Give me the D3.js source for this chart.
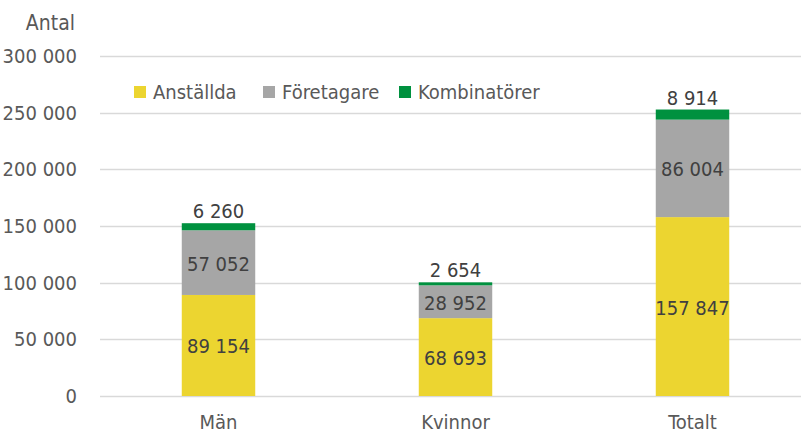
<!DOCTYPE html>
<html>
<head>
<meta charset="utf-8">
<script src="https://cdn.jsdelivr.net/npm/d3@7"></script>
<style>
  body { margin: 0; background: #fff; }
  svg text { font-family: "DejaVu Sans Condensed", "DejaVu Sans", sans-serif; font-stretch: condensed; }
</style>
</head>
<body>
<svg class="chart"></svg>
<script>
let categories = ['Män', 'Kvinnor', 'Totalt'];
let seriesNames = ['Anställda', 'Företagare', 'Kombinatörer'];
let anstallda = [89154, 68693, 157847];
let foretagare = [57052, 28952, 86004];
let kombinatorer = [6260, 2654, 8914];
let yTicks = [0, 50000, 100000, 150000, 200000, 250000, 300000];
let colors = ['#ecd530', '#a6a6a6', '#00913f'];

let width = 801, height = 436;
let margin = { top: 56, right: -10, bottom: 40, left: 100 };
let fontSize = '20px';

let chart = d3.select('.chart')
    .attr('width', width)
    .attr('height', height);

let x = d3.scaleBand()
    .domain(categories)
    .range([margin.left, width - margin.right])
    .paddingInner(0.69)
    .paddingOuter(0.345);

let y = d3.scaleLinear()
    .domain([0, 300000])
    .range([height - margin.bottom, margin.top]);

let fmt = v => d3.format(',')(v).replace(/,/g, ' ');

// grid
chart.append('g')
  .selectAll('line')
  .data(yTicks)
  .enter().append('line')
    .attr('x1', margin.left)
    .attr('x2', width)
    .attr('y1', d => Math.round(y(d)) + 0.5)
    .attr('y2', d => Math.round(y(d)) + 0.5)
    .attr('stroke', '#d9d9d9')
    .attr('stroke-width', 1.3);

// y axis labels
let yAxis = d3.axisLeft(y).tickValues(yTicks).tickSize(0).tickPadding(23).tickFormat(fmt);
let yg = chart.append('g')
    .attr('transform', 'translate(' + margin.left + ',0)')
    .call(yAxis);
yg.select('.domain').remove();
yg.selectAll('text')
    .attr('fill', '#595959')
    .style('font-size', fontSize);

chart.append('text')
    .attr('x', 75)
    .attr('y', 30)
    .attr('text-anchor', 'end')
    .attr('fill', '#595959')
    .style('font-size', '21px')
    .text('Antal');

// stacked data
let rows = categories.map((c, i) => ({
  cat: c, 'Anställda': anstallda[i], 'Företagare': foretagare[i], 'Kombinatörer': kombinatorer[i]
}));
let stack = d3.stack().keys(seriesNames)(rows);

let layer = chart.selectAll('.layer')
    .data(stack)
  .enter().append('g')
    .attr('class', 'layer')
    .attr('fill', (d, i) => colors[i]);

layer.selectAll('rect')
    .data(d => d)
  .enter().append('rect')
    .attr('x', d => x(d.data.cat))
    .attr('width', x.bandwidth())
    .attr('y', d => y(d[1]))
    .attr('height', d => y(d[0]) - y(d[1]));

// value labels
stack.forEach((s, si) => {
  chart.append('g').selectAll('text')
      .data(s)
    .enter().append('text')
      .attr('x', d => x(d.data.cat) + x.bandwidth() / 2)
      .attr('y', d => si === 2 ? y(d[1]) - 5 : (y(d[0]) + y(d[1])) / 2 + 8)
      .attr('text-anchor', 'middle')
      .attr('fill', '#404040')
      .style('font-size', fontSize)
      .text(d => fmt(d[1] - d[0]));
});

// x axis labels
let xAxis = d3.axisBottom(x).tickSize(0).tickPadding(19);
let xg = chart.append('g')
    .attr('transform', 'translate(0,' + (height - margin.bottom) + ')')
    .call(xAxis);
xg.select('.domain').remove();
xg.selectAll('text')
    .attr('fill', '#595959')
    .style('font-size', fontSize);

// legend
let legendX = [134, 263, 399];
let legend = chart.append('g').selectAll('g')
    .data(seriesNames)
  .enter().append('g')
    .attr('transform', (d, i) => 'translate(' + legendX[i] + ',85)');
legend.append('rect')
    .attr('width', 12)
    .attr('height', 12)
    .attr('y', 1)
    .attr('fill', (d, i) => colors[i]);
legend.append('text')
    .attr('x', 19)
    .attr('y', 14)
    .attr('fill', '#595959')
    .style('font-size', fontSize)
    .text(d => d);
</script>
</body>
</html>
